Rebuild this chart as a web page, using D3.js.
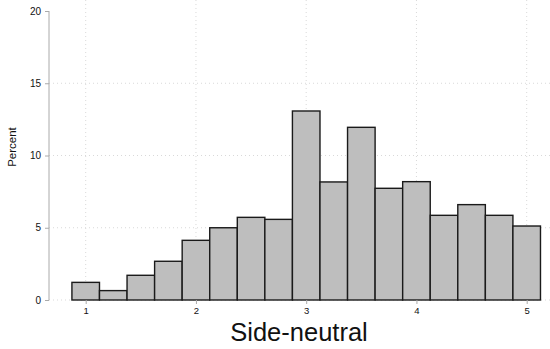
<!DOCTYPE html>
<html>
<head>
<meta charset="utf-8">
<script src="https://cdn.jsdelivr.net/npm/d3@7"></script>
<style>
  body { margin: 0; background: #fff; }
  svg { display: block; font-family: "Liberation Sans", Arial, sans-serif; }
  .axis text { fill: #111; }
</style>
</head>
<body>
<svg id="plot"></svg>
<script>
// Data: histogram bins (left edges), width 0.25, percent heights
const binStarts = [0.875, 1.125, 1.375, 1.625, 1.875, 2.125, 2.375, 2.625, 2.875,
                   3.125, 3.375, 3.625, 3.875, 4.125, 4.375, 4.625, 4.875];
const percents = [1.22, 0.65, 1.71, 2.68, 4.13, 5.0, 5.72, 5.58, 13.08,
                  8.17, 11.95, 7.73, 8.19, 5.86, 6.6, 5.86, 5.12];
const binWidth = 0.25;
const xTicks = [1, 2, 3, 4, 5];
const yTicks = [0, 5, 10, 15, 20];

const width = 550, height = 349;
const svg = d3.select("#plot").attr("width", width).attr("height", height);

// Scales
const x = d3.scaleLinear().domain([1, 5]).range([85.7, 526.7]);
const y = d3.scaleLinear().domain([0, 20]).range([300, 11]);

// Grid lines
svg.append("g").selectAll("line")
    .data(xTicks)
    .enter().append("line")
    .attr("x1", d => x(d)).attr("x2", d => x(d))
    .attr("y1", 0).attr("y2", y(0))
    .attr("stroke", "#d9d9d9").attr("stroke-dasharray", "1,3");

svg.append("g").selectAll("line")
    .data(yTicks.filter(d => d < 20))
    .enter().append("line")
    .attr("x1", 49).attr("x2", 550)
    .attr("y1", d => y(d)).attr("y2", d => y(d))
    .attr("stroke", "#d9d9d9").attr("stroke-dasharray", "1,3");

// Bars
svg.selectAll(".bar")
    .data(binStarts)
    .enter().append("rect")
    .attr("class", "bar")
    .attr("x", d => x(d))
    .attr("width", d => x(d + binWidth) - x(d))
    .attr("y", (d, i) => y(percents[i]))
    .attr("height", (d, i) => y(0) - y(percents[i]))
    .attr("fill", "#bebebe")
    .attr("stroke", "#1a1a1a")
    .attr("stroke-width", 1.4);

// Y axis
const yAxis = svg.append("g")
    .attr("class", "axis")
    .attr("transform", "translate(49,0)")
    .call(d3.axisLeft(y).tickValues(yTicks).tickFormat(d3.format("d")).tickSize(4).tickPadding(4));
yAxis.attr("font-family", null);
yAxis.select(".domain").attr("stroke", "#aaa").attr("d", `M0,${y(20)}V${y(0)}`);
yAxis.selectAll(".tick line").attr("stroke", "#aaa");
yAxis.selectAll("text").attr("font-size", 10);

// X axis
const xAxis = svg.append("g")
    .attr("class", "axis")
    .attr("transform", `translate(0,${y(0)})`)
    .call(d3.axisBottom(x).tickValues(xTicks).tickFormat(d3.format("d")).tickSize(4).tickPadding(3));
xAxis.attr("font-family", null);
xAxis.select(".domain").remove();
xAxis.selectAll(".tick line").attr("stroke", "#aaa");
xAxis.selectAll("text").attr("font-size", 9.5);

// Axis labels
svg.append("text")
    .attr("x", 299)
    .attr("y", 340.5)
    .attr("text-anchor", "middle")
    .attr("font-size", 25.5)
    .attr("fill", "#111")
    .text("Side-neutral");

svg.append("text")
    .attr("transform", "translate(16,147) rotate(-90)")
    .attr("text-anchor", "middle")
    .attr("font-size", 11.5)
    .attr("fill", "#111")
    .text("Percent");
</script>
</body>
</html>
